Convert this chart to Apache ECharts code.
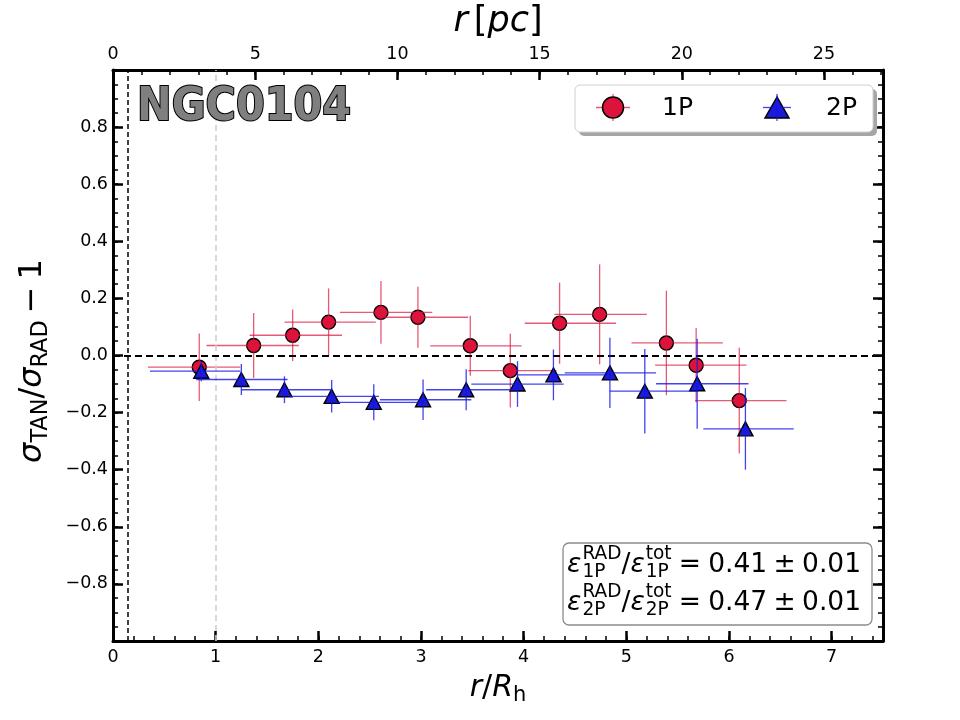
<!DOCTYPE html>
<html><head><meta charset="utf-8">
<script src="https://cdn.jsdelivr.net/npm/echarts@6/dist/echarts.min.js"></script>
<style>html,body{margin:0;padding:0;background:#fff}#chart{width:960px;height:720px}</style>
</head><body><div id="chart"></div>
<script>
// ---------------- data (r / R_h, sigma_TAN/sigma_RAD - 1) ----------------
const clusterName = 'NGC0104';
const rhPc = 3.61; // parsec per half-light radius (top axis scale)

// first population (1P)
const r1P    = [0.84, 1.37, 1.75, 2.10, 2.61, 2.97, 3.48, 3.87, 4.35, 4.74, 5.39, 5.68, 6.10];
const val1P  = [-0.041, 0.035, 0.071, 0.117, 0.151, 0.134, 0.034, -0.053, 0.113, 0.144, 0.044, -0.034, -0.158];
const err1P  = [0.118, 0.114, 0.090, 0.118, 0.110, 0.107, 0.105, 0.129, 0.142, 0.175, 0.183, 0.130, 0.185];
const binLo1P = [0.34, 0.91, 1.33, 1.67, 2.21, 2.63, 3.09, 3.46, 4.01, 4.30, 5.05, 5.28, 5.67];
const binHi1P = [1.24, 1.81, 2.23, 2.56, 3.11, 3.46, 3.98, 4.32, 4.90, 5.20, 5.94, 6.17, 6.56];

// second population (2P)
const r2P    = [0.86, 1.25, 1.67, 2.13, 2.54, 3.02, 3.44, 3.94, 4.29, 4.84, 5.18, 5.69, 6.16];
const val2P  = [-0.055, -0.084, -0.120, -0.143, -0.164, -0.155, -0.120, -0.100, -0.068, -0.061, -0.125, -0.099, -0.257];
const err2P  = [0.035, 0.054, 0.047, 0.057, 0.063, 0.071, 0.072, 0.080, 0.089, 0.123, 0.148, 0.158, 0.143];
const binLo2P = [0.36, 0.81, 1.25, 1.72, 2.18, 2.60, 3.05, 3.49, 3.94, 4.40, 4.84, 5.29, 5.75];
const binHi2P = [1.24, 1.70, 2.13, 2.59, 3.02, 3.49, 3.93, 4.39, 4.82, 5.29, 5.70, 6.19, 6.63];

// reference lines
const innerLimit = 0.145;   // black dashed vertical
const rhLine = 1;           // grey dashed vertical at R_h
const zeroLevel = 0;        // isotropy

// annotation values
const annoRatio = [['1P', '0.41', '0.01'], ['2P', '0.47', '0.01']];
const yTickLabelsHidden = [-1, 1];

// ---------------- helpers ----------------
const FAM = '"DejaVu Sans"';
const mctx = document.createElement('canvas').getContext('2d');
function tw(text, font) { mctx.font = font; return mctx.measureText(text).width; }
function fontStr(size, italic, bold) { return (italic ? 'italic ' : '') + (bold ? 'bold ' : '') + size + 'px ' + FAM; }

function mathRow(segs, base) {
  let x = 0; const items = [];
  segs.forEach(s => {
    if (s.gap) { x += s.gap * base; return; }
    if (s.sup !== undefined || s.sub !== undefined) {
      const ss = base * 0.7; let w = 0;
      if (s.sup) { const f = fontStr(ss, false); items.push({ text: s.sup, x, y: -0.40 * base, font: f }); w = Math.max(w, tw(s.sup, f)); }
      if (s.sub) { const f = fontStr(ss, false); items.push({ text: s.sub, x, y: 0.26 * base, font: f }); w = Math.max(w, tw(s.sub, f)); }
      x += w; return;
    }
    const f = fontStr(base, s.it);
    items.push({ text: s.t, x, y: 0, font: f });
    x += tw(s.t, f);
  });
  return { items, width: x };
}
function mathGroup(segs, base, gx, gy, align, rotation, z) {
  const row = mathRow(segs, base);
  const off = align === 'center' ? -row.width / 2 : 0;
  return {
    type: 'group', x: gx, y: gy, rotation: rotation || 0, silent: true,
    children: row.items.map(it => ({
      type: 'text', silent: true, z: z || 10,
      style: { text: it.text, x: it.x + off, y: it.y, font: it.font, fill: '#000', align: 'left', verticalAlign: 'middle' }
    }))
  };
}

function errSeries(name, xs, ys, lo, hi, err, color, z) {
  return {
    type: 'custom', name: name + ' err', xAxisIndex: 0, yAxisIndex: 0, z, silent: true,
    data: xs.map((x, i) => [x, ys[i], lo[i], hi[i], ys[i] - err[i], ys[i] + err[i]]),
    encode: { x: [0, 2, 3], y: [1, 4, 5] },
    renderItem(params, api) {
      const l = api.coord([api.value(2), api.value(1)]);
      const r = api.coord([api.value(3), api.value(1)]);
      const b = api.coord([api.value(0), api.value(4)]);
      const t = api.coord([api.value(0), api.value(5)]);
      return { type: 'group', children: [
        { type: 'line', shape: { x1: l[0], y1: l[1], x2: r[0], y2: r[1] }, style: { stroke: color, lineWidth: 1.3 } },
        { type: 'line', shape: { x1: b[0], y1: b[1], x2: t[0], y2: t[1] }, style: { stroke: color, lineWidth: 1.3 } }
      ] };
    }
  };
}

const RED = '#DC143C', BLUE = '#1c1cd8';
const RED_ERR = 'rgba(220,20,60,0.7)', BLUE_ERR = 'rgba(20,20,235,0.8)';

const tickLabel = { fontFamily: 'DejaVu Sans', fontSize: 17.5, color: '#000' };
function majorAxis(pos, min, max, interval, labels, fmt) {
  return {
    type: 'value', position: pos, min, max, interval,
    axisLine: { show: true, onZero: false, lineStyle: { color: '#000', width: 3 } },
    axisTick: { show: true, inside: true, length: 10, lineStyle: { color: '#000', width: 2.5 } },
    axisLabel: labels ? Object.assign({ show: true, margin: pos === 'left' ? 5 : 7, showMinLabel: pos === 'left' ? false : true, showMaxLabel: false, formatter: fmt }, tickLabel) : { show: false },
    splitLine: { show: false }, minorTick: { show: false }
  };
}
function minorAxis(pos, min, max, interval) {
  return {
    type: 'value', position: pos, min, max, interval,
    axisLine: { show: false, onZero: false },
    axisTick: { show: true, inside: true, length: 5, lineStyle: { color: '#000', width: 1.5 } },
    axisLabel: { show: false }, splitLine: { show: false }
  };
}
const yFmt = v => { if (Math.abs(v) < 1e-9) return '0.0'; if (yTickLabelsHidden.indexOf(Math.round(v * 10) / 10) >= 0) return ''; return v.toFixed(1).replace('-', '\u2212'); };
const intFmt = v => String(Math.round(v));

const xMax = 7.5, yMin = -1, yMax = 1;

// ---------------- graphics: title, legend, annotation, axis titles ----------------
const graphics = [];
// cluster name
graphics.push({ type: 'text', silent: true, z: 20,
  style: { text: clusterName, x: 137, y: 108, font: 'bold 46px "DejaVu Sans Condensed", "DejaVu Sans"', fill: '#7f7f7f', stroke: '#000', lineWidth: 2.0, strokeFirst: true, align: 'left', verticalAlign: 'middle' } });

// legend
graphics.push({ type: 'rect', silent: true, z: 20, shape: { x: 579, y: 89, width: 298, height: 47, r: 5 }, style: { fill: '#a6a6a6' } });
graphics.push({ type: 'rect', silent: true, z: 21, shape: { x: 575, y: 85, width: 298, height: 47, r: 5 }, style: { fill: '#fff', stroke: '#d0d0d0', lineWidth: 1 } });
graphics.push({ type: 'line', silent: true, z: 22, shape: { x1: 596, y1: 107.5, x2: 630, y2: 107.5 }, style: { stroke: RED_ERR, lineWidth: 1.3 } });
graphics.push({ type: 'line', silent: true, z: 22, shape: { x1: 613, y1: 94, x2: 613, y2: 121 }, style: { stroke: RED_ERR, lineWidth: 1.3 } });
graphics.push({ type: 'circle', silent: true, z: 23, shape: { cx: 613, cy: 107.5, r: 10.5 }, style: { fill: RED, stroke: '#000', lineWidth: 1.5 } });
graphics.push({ type: 'text', silent: true, z: 23, style: { text: '1P', x: 662, y: 108, font: '25px "DejaVu Sans"', fill: '#000', align: 'left', verticalAlign: 'middle' } });
graphics.push({ type: 'polygon', silent: true, z: 23, shape: { points: [[777, 97], [765, 118], [789, 118]] }, style: { fill: BLUE, stroke: '#000', lineWidth: 1.5 } });
graphics.push({ type: 'line', silent: true, z: 24, shape: { x1: 763, y1: 107.5, x2: 791, y2: 107.5 }, style: { stroke: BLUE_ERR, lineWidth: 1.3 } });
graphics.push({ type: 'line', silent: true, z: 24, shape: { x1: 777, y1: 94, x2: 777, y2: 121 }, style: { stroke: BLUE_ERR, lineWidth: 1.3 } });
graphics.push({ type: 'text', silent: true, z: 23, style: { text: '2P', x: 826, y: 108, font: '25px "DejaVu Sans"', fill: '#000', align: 'left', verticalAlign: 'middle' } });

// annotation box
graphics.push({ type: 'rect', silent: true, z: 20, shape: { x: 563, y: 543, width: 309, height: 82, r: 6 }, style: { fill: '#fff', stroke: '#8c8c8c', lineWidth: 1.3 } });
annoRatio.forEach((a, i) => {
  const segs = [{ t: 'ε', it: true }, { gap: 0.04 }, { sup: 'RAD', sub: a[0] }, { t: '/' }, { t: 'ε', it: true }, { gap: 0.04 }, { sup: 'tot', sub: a[0] },
    { gap: 0.27 }, { t: '=' }, { gap: 0.27 }, { t: a[1] }, { gap: 0.24 }, { t: '±' }, { gap: 0.24 }, { t: a[2] }];
  graphics.push(mathGroup(segs, 26.5, 567, 565 + i * 38, 'left', 0, 25));
});

// axis titles
graphics.push(mathGroup([{ t: 'r', it: true }, { t: '/' }, { t: 'R', it: true }, { sub: 'h' }], 30, 498, 688, 'center', 0));
graphics.push(mathGroup([{ t: 'r', it: true }, { gap: 0.17 }, { t: '[' }, { t: 'pc', it: true }, { t: ']' }], 35, 498, 22, 'center', 0));
graphics.push(mathGroup([{ t: 'σ', it: true }, { sub: 'TAN' }, { t: '/' }, { t: 'σ', it: true }, { sub: 'RAD' }, { gap: 0.22 }, { t: '\u2212' }, { gap: 0.22 }, { t: '1' }], 32, 33, 361, 'center', Math.PI / 2));

const option = {
  animation: false,
  backgroundColor: '#fff',
  grid: { left: 113, right: 77, top: 70, bottom: 79, containLabel: false },
  xAxis: [
    majorAxis('bottom', 0, xMax, 1, true, intFmt),
    minorAxis('bottom', 0, xMax, 0.2),
    majorAxis('top', 0, xMax * rhPc, 5, true, intFmt),
    minorAxis('top', 0, xMax * rhPc, 1)
  ],
  yAxis: [
    majorAxis('left', yMin, yMax, 0.2, true, yFmt),
    minorAxis('left', yMin, yMax, 0.05),
    majorAxis('right', yMin, yMax, 0.2, false),
    minorAxis('right', yMin, yMax, 0.05)
  ],
  graphic: { elements: graphics },
  series: [
    {
      type: 'scatter', name: 'refs', data: [], xAxisIndex: 0, yAxisIndex: 0, z: 2, silent: true,
      markLine: {
        silent: true, symbol: ['none', 'none'], label: { show: false }, animation: false,
        data: [
          { xAxis: rhLine, lineStyle: { color: '#cfcfcf', width: 1.6, type: [6, 4] } },
          { xAxis: innerLimit, lineStyle: { color: '#000', width: 1.5, type: [5, 3] } },
          { yAxis: zeroLevel, lineStyle: { color: '#000', width: 1.8, type: [7, 4] } }
        ]
      }
    },
    { type: 'scatter', name: '1P', xAxisIndex: 0, yAxisIndex: 0, z: 3, data: r1P.map((x, i) => [x, val1P[i]]),
      symbol: 'circle', symbolSize: 14, itemStyle: { color: RED, borderColor: '#000', borderWidth: 1.4, opacity: 1 } },
    errSeries('1P', r1P, val1P, binLo1P, binHi1P, err1P, RED_ERR, 4),
    { type: 'scatter', name: '2P', xAxisIndex: 0, yAxisIndex: 0, z: 5, data: r2P.map((x, i) => [x, val2P[i]]),
      symbol: 'triangle', symbolSize: [15, 14], itemStyle: { color: BLUE, borderColor: '#000', borderWidth: 1.4, opacity: 1 } },
    errSeries('2P', r2P, val2P, binLo2P, binHi2P, err2P, BLUE_ERR, 6)
  ]
};
const chart = echarts.init(document.getElementById('chart'), null, { renderer: 'canvas' });
chart.setOption(option);
</script>
</body></html>
